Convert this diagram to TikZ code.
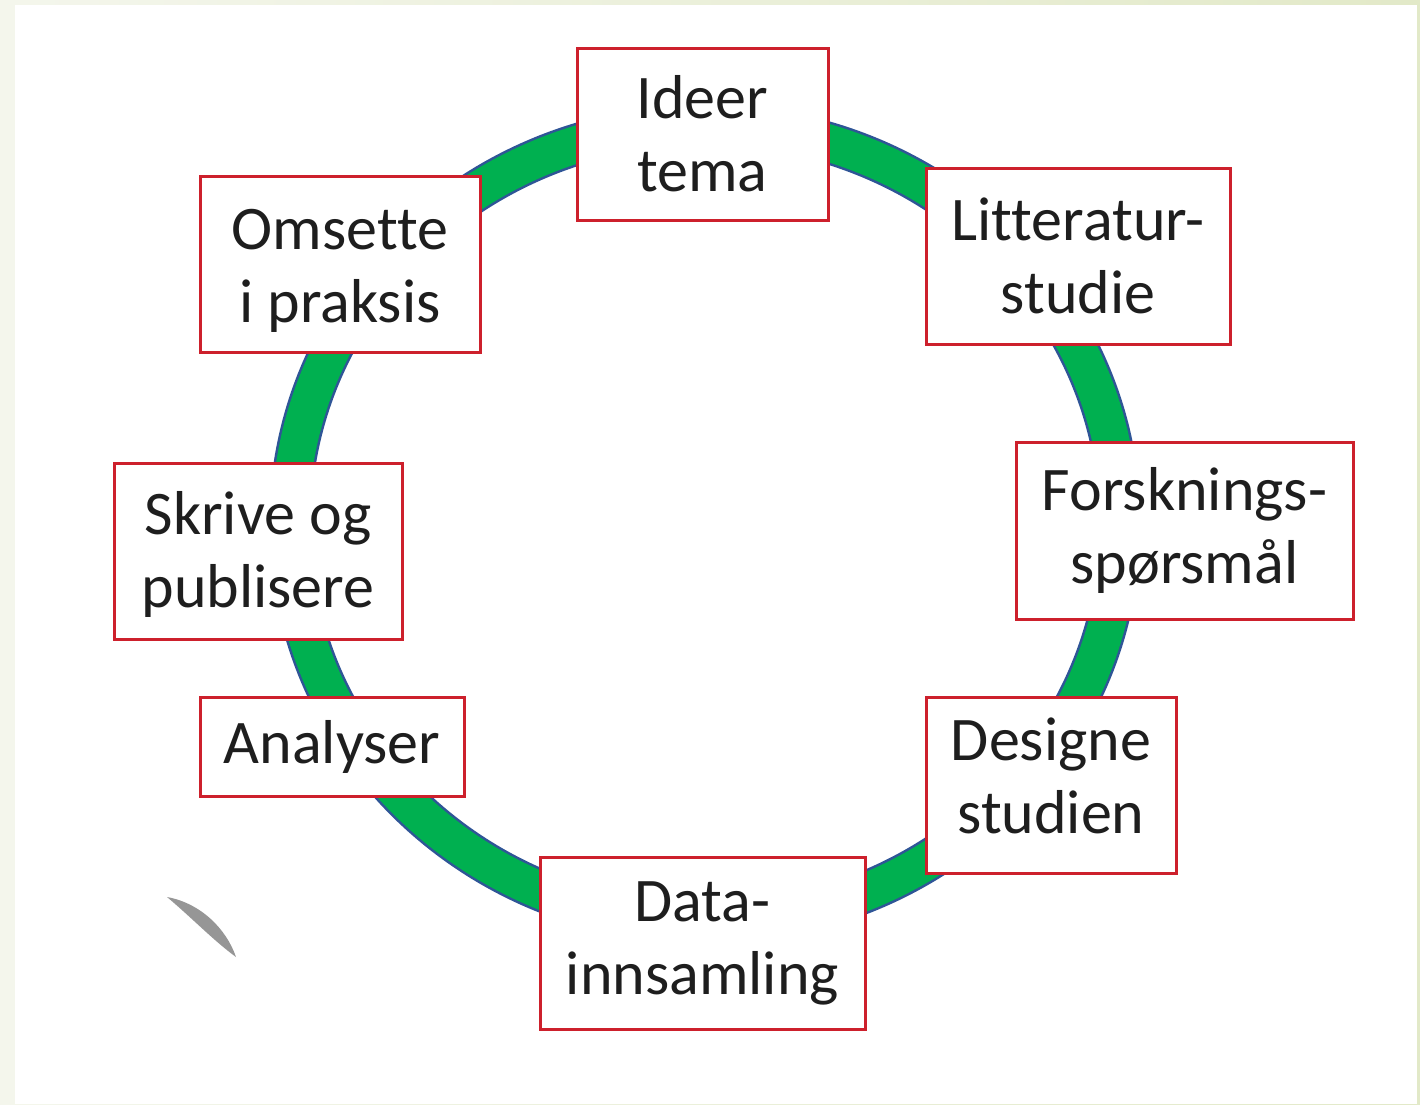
\documentclass[tikz,border=0pt]{standalone}
\usepackage{fontspec}
\setmainfont{Carlito}[Ligatures=NoCommon]
\definecolor{bgA}{RGB}{244,246,236}
\definecolor{bgB}{RGB}{226,233,200}
\definecolor{ringgreen}{RGB}{0,176,80}
\definecolor{ringblue}{RGB}{47,85,151}
\definecolor{boxred}{RGB}{205,32,44}
\definecolor{txt}{RGB}{30,30,30}
\tikzset{
  stagebox/.style={draw=boxred, line width=3pt, fill=white, inner sep=0pt,
    align=center, text=txt, font=\fontsize{62}{73}\selectfont},
}
\begin{document}
\begin{tikzpicture}[x=1pt,y=-1pt]
\useasboundingbox (0,0) rectangle (1420,1104);
\shade[left color=bgA, right color=bgB] (0,0) rectangle (1420,1104);
\fill[white] (15,5) rectangle (1417,1104);
% ring
\draw[ringblue, line width=42pt] (705,524) ellipse [x radius=415, y radius=399];
\draw[ringgreen, line width=37pt] (705,524) ellipse [x radius=415, y radius=399];
% stages
\node[stagebox, minimum width=251, minimum height=172] (ideer) at (702.5,134) {Ideer\\tema};
\node[stagebox, minimum width=304, minimum height=176] (litt) at (1078,256) {Litteratur-\\studie};
\node[stagebox, minimum width=337, minimum height=177] (forsk) at (1184.5,530.5) {Forsknings-\\spørsmål};
\node[stagebox, minimum width=250, minimum height=176] (design) at (1051,785) {\raisebox{3pt}[\height][\depth]{\begin{tabular}{@{}c@{}}Designe\\studien\end{tabular}}};
\node[stagebox, minimum width=325, minimum height=172] (data) at (702.5,943) {Data-\\innsamling};
\node[stagebox, minimum width=264, minimum height=99] (analyser) at (332,746.5) {Analyser};
\node[stagebox, minimum width=288, minimum height=176] (skrive) at (258,551) {\raisebox{-5pt}[\height][\depth]{\begin{tabular}{@{}c@{}}Skrive og\\publisere\end{tabular}}};
\node[stagebox, minimum width=280, minimum height=176] (omsette) at (340,264) {\raisebox{-7pt}[\height][\depth]{\begin{tabular}{@{}c@{}}Omsette\\i praksis\end{tabular}}};
% smudge
\fill[gray!90!black, opacity=0.75] (167,897) .. controls (200,903) and (226,928) .. (236,957)
  .. controls (214,941) and (192,918) .. (167,897);
\end{tikzpicture}
\end{document}
